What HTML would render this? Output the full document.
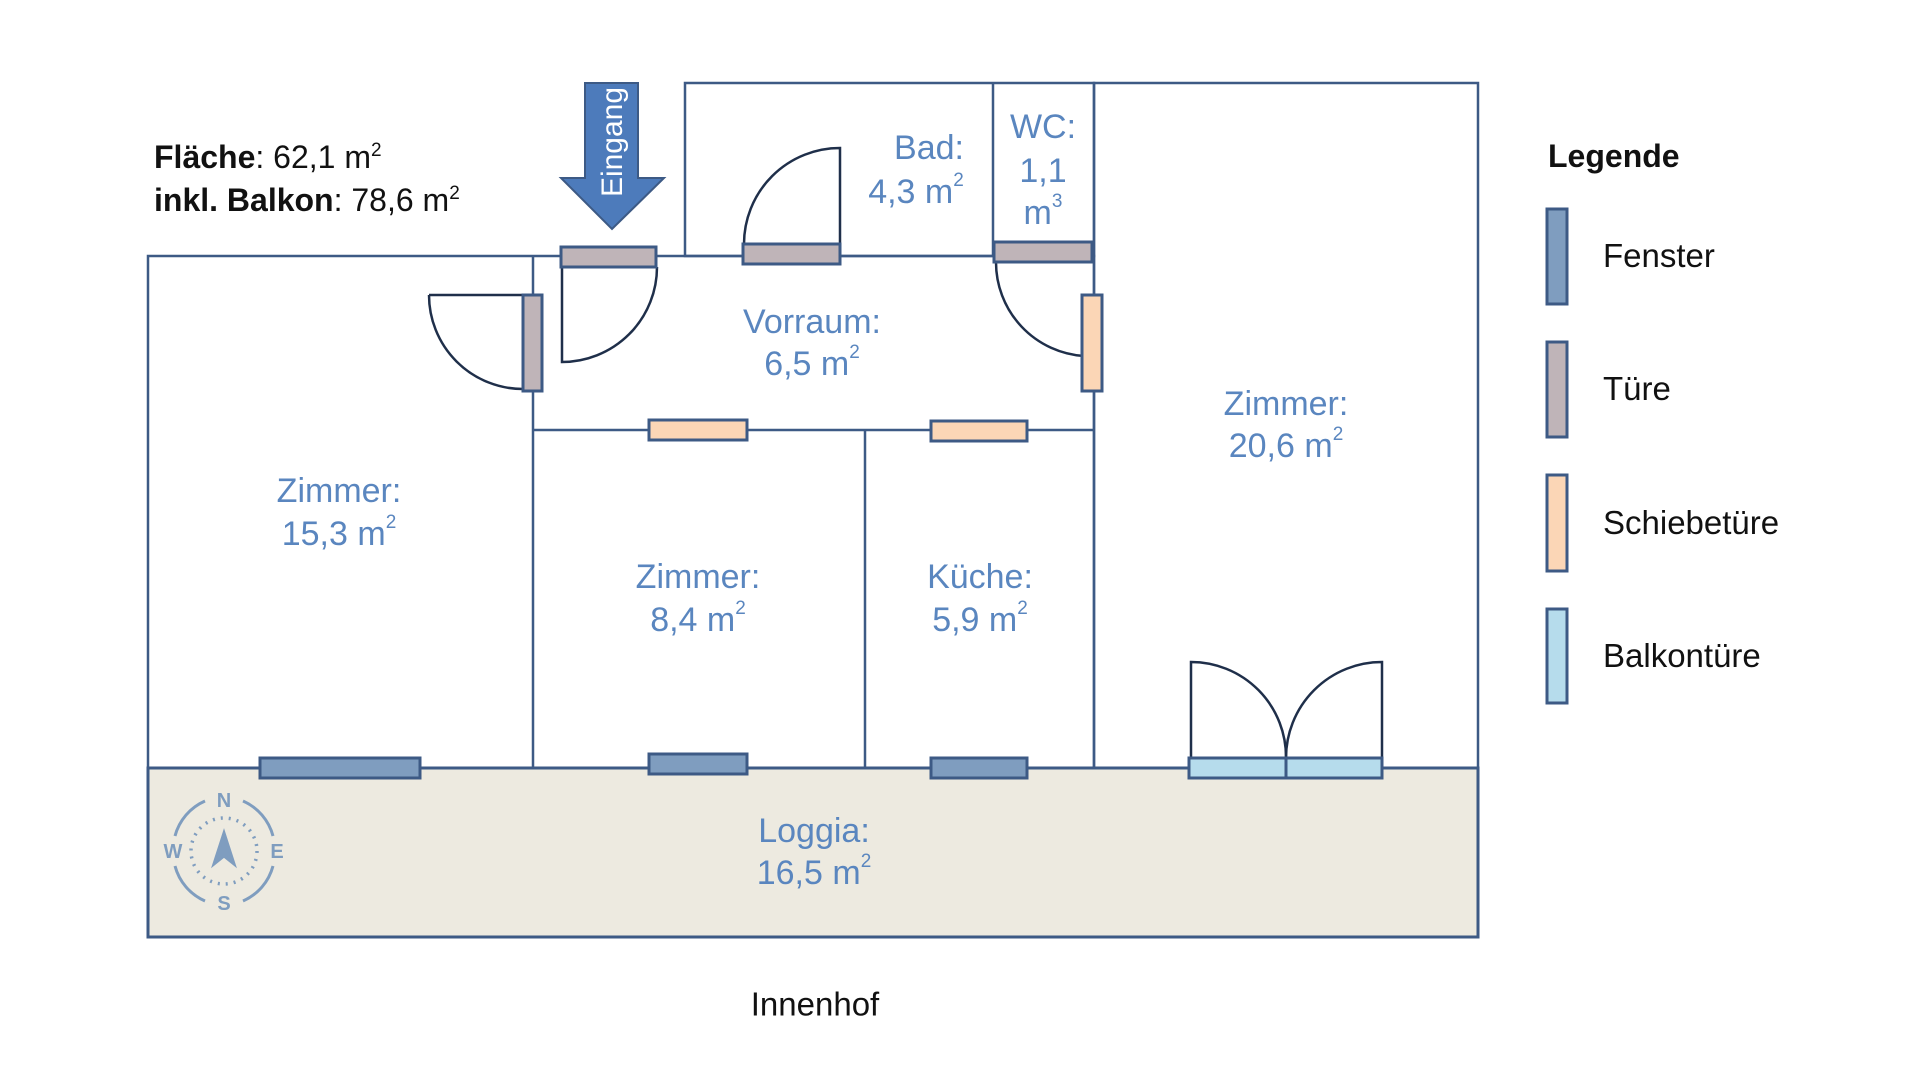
<!DOCTYPE html>
<html><head><meta charset="utf-8"><style>
html,body{margin:0;padding:0;background:#fff;}
svg{display:block;}
text{font-family:"Liberation Sans",sans-serif;}
.b{fill:#5a86bf;font-size:34px;text-anchor:middle;dominant-baseline:central;}
.k{fill:#111;font-size:32px;}
</style></head><body>
<svg width="1920" height="1080" viewBox="0 0 1920 1080" xmlns="http://www.w3.org/2000/svg">
<g stroke="#3d5a85" stroke-width="2.5" fill="none">
<rect x="148" y="768" width="1330" height="169" fill="#edeae0" stroke-width="3"/>
<rect x="148" y="256" width="946" height="512"/>
<rect x="685" y="83" width="409" height="173"/>
<rect x="1094" y="83" width="384" height="685"/>
<line x1="993" y1="83" x2="993" y2="256"/>
<line x1="533" y1="256" x2="533" y2="768"/>
<line x1="533" y1="430" x2="1094" y2="430"/>
<line x1="865" y1="430" x2="865" y2="768"/>
</g>
<g stroke="#1f2f4a" stroke-width="2.5" fill="none">
<path d="M429 295 H523 M429 295 A94 94 0 0 0 523 389"/>
<path d="M562 267 V362 A95 95 0 0 0 657 267"/>
<path d="M840 244 V148 A96 96 0 0 0 744 244"/>
<path d="M996 262 A94 94 0 0 0 1084 356"/>
<path d="M1191 758 V662 A95 95 0 0 1 1286 758"/>
<path d="M1382 758 V662 A96 96 0 0 0 1286 758"/>
</g>
<g stroke="#3d5a85" stroke-width="3">
<rect x="260" y="758" width="160" height="20" fill="#7f9dbf"/>
<rect x="649" y="754" width="98" height="20" fill="#7f9dbf"/>
<rect x="931" y="758" width="96" height="20" fill="#7f9dbf"/>
<rect x="1189" y="758" width="97" height="20" fill="#b6dcec"/>
<rect x="1286" y="758" width="96" height="20" fill="#b6dcec"/>
<rect x="561" y="247" width="95" height="20" fill="#bfb4b8"/>
<rect x="743" y="244" width="97" height="20" fill="#bfb4b8"/>
<rect x="994" y="242" width="98" height="20" fill="#bfb4b8"/>
<rect x="523" y="295" width="19" height="96" fill="#bfb4b8"/>
<rect x="1082" y="295" width="20" height="96" fill="#fbd6b6"/>
<rect x="649" y="420" width="98" height="20" fill="#fbd6b6"/>
<rect x="931" y="421" width="96" height="20" fill="#fbd6b6"/>
<rect x="1547" y="209" width="20" height="95" fill="#7f9dbf"/>
<rect x="1547" y="342" width="20" height="95" fill="#bfb4b8"/>
<rect x="1547" y="475" width="20" height="96" fill="#fbd6b6"/>
<rect x="1547" y="609" width="20" height="94" fill="#b6dcec"/>
</g>
<path d="M585 83 H638 V178 H664 L612 229 L561 178 H585 Z" fill="#4d7bbb" stroke="#3d5a85" stroke-width="2"/>
<text transform="translate(622,142) rotate(-90)" fill="#fff" font-size="30" text-anchor="middle">Eingang</text>
<text x="154" y="168" class="k"><tspan font-weight="bold">Fläche</tspan>: 62,1 m<tspan font-size="19" dy="-12">2</tspan></text>
<text x="154" y="211" class="k"><tspan font-weight="bold">inkl. Balkon</tspan>: 78,6 m<tspan font-size="19" dy="-12">2</tspan></text>
<text x="929" y="148" class="b">Bad:</text>
<text x="916" y="192" class="b">4,3 m<tspan font-size="19" dy="-12">2</tspan></text>
<text x="1043" y="127" class="b">WC:</text>
<text x="1043" y="171" class="b">1,1</text>
<text x="1043" y="213" class="b">m<tspan font-size="19" dy="-12">3</tspan></text>
<text x="812" y="322" class="b">Vorraum:</text>
<text x="812" y="364" class="b">6,5 m<tspan font-size="19" dy="-12">2</tspan></text>
<text x="339" y="491" class="b">Zimmer:</text>
<text x="339" y="534" class="b">15,3 m<tspan font-size="19" dy="-12">2</tspan></text>
<text x="698" y="577" class="b">Zimmer:</text>
<text x="698" y="620" class="b">8,4 m<tspan font-size="19" dy="-12">2</tspan></text>
<text x="980" y="577" class="b">Küche:</text>
<text x="980" y="620" class="b">5,9 m<tspan font-size="19" dy="-12">2</tspan></text>
<text x="1286" y="404" class="b">Zimmer:</text>
<text x="1286" y="446" class="b">20,6 m<tspan font-size="19" dy="-12">2</tspan></text>
<text x="814" y="831" class="b">Loggia:</text>
<text x="814" y="873" class="b">16,5 m<tspan font-size="19" dy="-12">2</tspan></text>
<text x="815" y="1004" font-size="33" fill="#111" text-anchor="middle" dominant-baseline="central">Innenhof</text>
<text x="1548" y="167" font-size="32" font-weight="bold" fill="#111">Legende</text>
<text x="1603" y="267" font-size="33" fill="#111">Fenster</text>
<text x="1603" y="400" font-size="33" fill="#111">Türe</text>
<text x="1603" y="534" font-size="33" fill="#111">Schiebetüre</text>
<text x="1603" y="667" font-size="33" fill="#111">Balkontüre</text>
<g stroke="#7f9dbf" fill="none" stroke-width="3">
<path d="M205 801 A53 53 0 0 0 175 836"/><path d="M243 801 A53 53 0 0 1 273 836"/>
<path d="M175 866 A53 53 0 0 0 205 901"/><path d="M273 866 A53 53 0 0 1 243 901"/>
<circle cx="224" cy="851" r="33" stroke-dasharray="2 6" stroke-width="3.5"/>
<path d="M214 864 L224 833 L234 864 L224 856 Z" fill="#7f9dbf"/>
</g>
<g fill="#7f9dbf" font-size="20" font-weight="bold" text-anchor="middle" dominant-baseline="central">
<text x="224" y="801">N</text><text x="224" y="904">S</text><text x="173" y="852">W</text><text x="277" y="852">E</text>
</g>
</svg>
</body></html>
